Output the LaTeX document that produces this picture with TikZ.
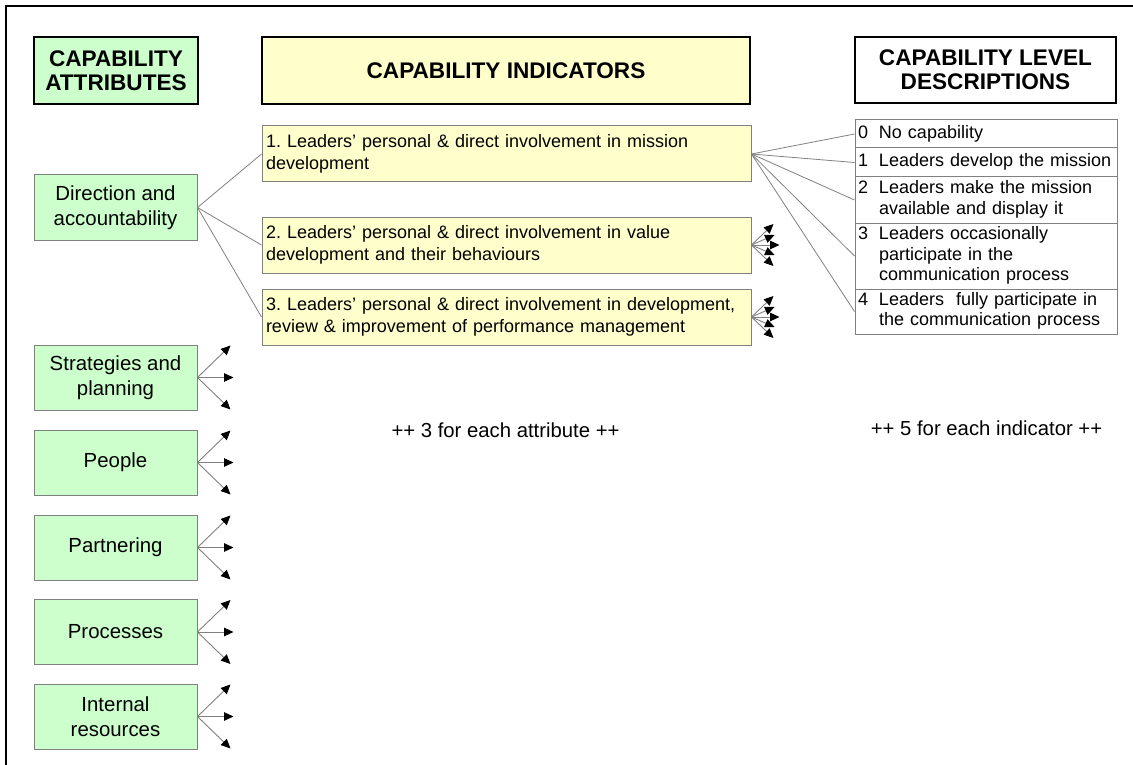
\documentclass[tikz,border=0pt]{standalone}
\usepackage{fontspec}
\setmainfont{Liberation Sans}
\usetikzlibrary{arrows.meta}
\definecolor{attrgreen}{HTML}{CCFFCC}
\definecolor{indyellow}{HTML}{FFFFCC}
\definecolor{edgegrey}{HTML}{808080}
\frenchspacing
\begin{document}
\begin{tikzpicture}[x=1pt,y=-1pt,
  head/.style={draw=black,line width=2.2pt,align=center,inner sep=0pt,
    font=\fontsize{22.6}{24.4}\selectfont\bfseries},
  attr/.style={draw=edgegrey,line width=1pt,fill=attrgreen,minimum width=163pt,
    minimum height=65pt,align=center,inner sep=0pt,font=\fontsize{20.4}{25}\selectfont},
  ind/.style={draw=edgegrey,line width=1pt,fill=indyellow,minimum height=56pt,
    text width=481pt,inner xsep=4pt,inner ysep=0pt,align=left,
    font=\fontsize{18}{21.7}\selectfont},
  lvl/.style={draw=edgegrey,line width=1pt,fill=white,text width=256pt,
    inner xsep=3pt,inner ysep=0pt,align=left,font=\fontsize{18}{20.7}\selectfont},
  link/.style={draw=edgegrey,line width=0.8pt},
  fan/.style={draw=edgegrey,line width=0.9pt,
    -{Triangle[length=9.5pt,width=8.5pt,color=black]}},
  note/.style={font=\fontsize{20.3}{24}\selectfont}
]
\useasboundingbox (0,0) rectangle (1133,765);

% page frame (top and left edges)
\draw[line width=2.3pt] (6,765) -- (6,6) -- (1133,6);

% column headers
\node[head,fill=attrgreen,minimum width=164pt,minimum height=67pt] (hA) at (116,70.5)
  {CAPABILITY\\ATTRIBUTES};
\node[head,fill=indyellow,minimum width=488pt,minimum height=67pt] (hI) at (506,70.5)
  {CAPABILITY INDICATORS};
\node[head,fill=white,minimum width=261pt,minimum height=66pt] (hD) at (985.5,70)
  {CAPABILITY LEVEL\\DESCRIPTIONS};

% capability attributes
\node[attr] (a1) at (115.5,207.5) {Direction and\\accountability};
\node[attr] (a2) at (115.5,377.5) {Strategies and\\planning};
\node[attr] (a3) at (115.5,462.5) {People};
\node[attr] (a4) at (115.5,547.5) {Partnering};
\node[attr] (a5) at (115.5,632) {Processes};
\node[attr] (a6) at (115.5,716.5) {Internal\\resources};

% capability indicators
\node[ind] (i1) at (506.5,154) {1. Leaders’ personal \& direct involvement in mission\\development};
\node[ind] (i2) at (506.5,245) {2. Leaders’ personal \& direct involvement in value\\development and their behaviours};
\node[ind] (i3) at (506.5,317) {3. Leaders’ personal \& direct involvement in development,\\review \& improvement of performance management};

% capability level descriptions
\node[lvl,minimum height=28pt] (l0) at (986,134)
  {\begin{tabular}{@{}p{21pt}@{}l@{}}0&No capability\end{tabular}};
\node[lvl,minimum height=29pt] (l1) at (986,162.5)
  {\begin{tabular}{@{}p{21pt}@{}l@{}}1&Leaders develop the mission\end{tabular}};
\node[lvl,minimum height=46pt] (l2) at (986,200)
  {\begin{tabular}{@{}p{21pt}@{}l@{}}2&Leaders make the mission\\&available and display it\end{tabular}};
\node[lvl,minimum height=66pt] (l3) at (986,256)
  {\begin{tabular}{@{}p{21pt}@{}l@{}}3&Leaders occasionally\\&participate in the\\&communication process\end{tabular}};
\node[lvl,minimum height=45pt] (l4) at (986,311.5)
  {\begin{tabular}{@{}p{21pt}@{}l@{}}4&Leaders\ \ fully participate in\\&the communication process\end{tabular}};

% attribute -> indicators
\foreach \t in {i1,i2,i3} \draw[link] (a1.east) -- (\t.west);

% indicator -> level descriptions
\foreach \t in {l0,l1,l2,l3,l4} \draw[link] (i1.east) -- (\t.west);

% "more of the same" fans on the remaining attributes
\foreach \s in {a2,a3,a4,a5,a6} {
  \draw[fan] (\s.east) -- ++(33,-32);
  \draw[fan] (\s.east) -- ++(36,0);
  \draw[fan] (\s.east) -- ++(33,32);
}

% fans on the remaining indicators
\foreach \s in {i2,i3} {
  \draw[fan] (\s.east) -- ++(22,-21);
  \draw[fan] (\s.east) -- ++(23,-10);
  \draw[fan] (\s.east) -- ++(28,0);
  \draw[fan] (\s.east) -- ++(23,10);
  \draw[fan] (\s.east) -- ++(22,21);
}

% notes
\node[note] (n1) at (505.5,430) {++ 3 for each attribute ++};
\node[note] (n2) at (986.5,428) {++ 5 for each indicator ++};
\end{tikzpicture}
\end{document}
